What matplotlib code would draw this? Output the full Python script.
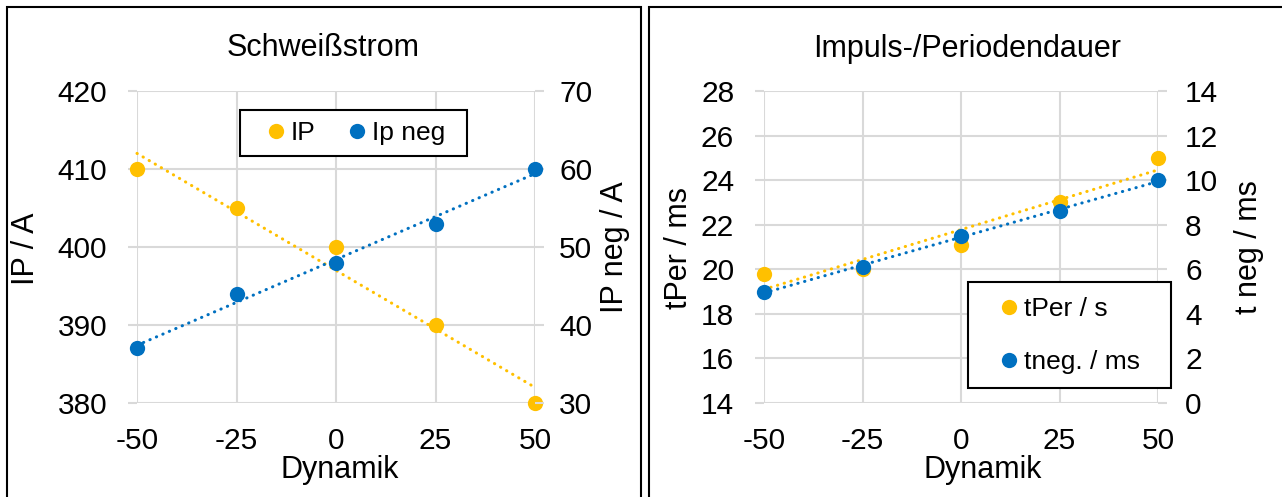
import numpy as np
import matplotlib
matplotlib.use('Agg')
import matplotlib.pyplot as plt
from matplotlib.patches import Rectangle

plt.rcParams['font.family'] = ['Liberation Sans', 'DejaVu Sans']
plt.rcParams['axes.unicode_minus'] = False

# Messwerte
dynamik = [-50, -25, 0, 25, 50]
ip = [410, 405, 400, 390, 380]          # IP / A
ip_neg = [37, 44, 48, 53, 60]           # IP neg / A
t_per = [19.8, 20.0, 21.1, 23.0, 25.0]  # tPer / ms
t_neg = [5.0, 6.1, 7.5, 8.6, 10.0]      # t neg / ms

GELB = '#FFC000'
BLAU = '#0070C0'
GRAU = '#D9D9D9'

W, H = 1282, 497
fig = plt.figure(figsize=(W / 100, H / 100), dpi=100)


def fx(x):
    return x / W


def fy(y):
    return 1 - y / H


def trend(ax, x, y, farbe):
    # lineare Trendlinie wie in Excel
    k, d = np.polyfit(x, y, 1)
    xs = np.array([min(x), max(x)], dtype=float)
    ax.plot(xs, k * xs + d, color=farbe, lw=2.2, linestyle=(0, (0.1, 2.2)),
            dash_capstyle='round', zorder=2, clip_on=False)


def panel(x0, x1, yl, yr, lim_l, lim_r, ticks_l, ticks_r, pad_r):
    ax = fig.add_axes([fx(x0), fy(403), fx(x1 - x0), (403 - 91) / H])
    ax2 = ax.twinx()
    trend(ax, dynamik, yl, GELB)
    l1, = ax.plot(dynamik, yl, 'o', color=GELB, ms=11, mew=0, zorder=3, clip_on=False)
    trend(ax2, dynamik, yr, BLAU)
    l2, = ax2.plot(dynamik, yr, 'o', color=BLAU, ms=11, mew=0, zorder=3, clip_on=False)
    ax.set_xlim(-50, 50)
    ax.set_xticks(dynamik)
    ax.set_ylim(*lim_l)
    ax.set_yticks(ticks_l)
    ax2.set_ylim(*lim_r)
    ax2.set_yticks(ticks_r)
    ax.grid(True, color=GRAU, lw=1.5)
    ax.set_axisbelow(True)
    ax.tick_params(axis='x', length=0, pad=17, labelsize=21.5)
    ax.tick_params(axis='y', length=6.5, width=1.5, color=GRAU, pad=15, labelsize=21.5)
    ax2.tick_params(axis='y', length=6.5, width=1.5, color=GRAU, pad=pad_r, labelsize=21.5)
    for a in (ax, ax2):
        for sp in a.spines.values():
            sp.set_visible(False)
    return ax, ax2, l1, l2


# linkes Diagramm: Schweißstrom
ax, ax2, l1, l2 = panel(137, 535, ip, ip_neg, (380, 420), (30, 70),
                        [380, 390, 400, 410, 420], [30, 40, 50, 60, 70], 11)
ax2.add_patch(Rectangle((fx(240), fy(156)), fx(467 - 240), (156 - 110) / H,
                        transform=fig.transFigure, fc='white', ec='black', lw=1.5,
                        zorder=4, clip_on=False))
ax2.legend([l1, l2], ['IP', 'Ip neg'], ncol=2, frameon=False, loc='center',
           bbox_to_anchor=(fx(355), fy(133)), bbox_transform=fig.transFigure,
           fontsize=19, handlelength=0.8, handletextpad=0.15, columnspacing=1.2,
           borderpad=0)

fig.text(fx(323), fy(56.5), 'Schweißstrom', fontsize=22, ha='center', va='baseline')
fig.text(fx(340), fy(478), 'Dynamik', fontsize=22, ha='center', va='baseline')
fig.text(fx(34), fy(249), 'IP / A', fontsize=22, rotation=90, rotation_mode='anchor',
         ha='center', va='baseline')
fig.text(fx(623), fy(247), 'IP neg / A', fontsize=22, rotation=90, rotation_mode='anchor',
         ha='center', va='baseline')

# rechtes Diagramm: Impuls-/Periodendauer
bx, bx2, m1, m2 = panel(764, 1158, t_per, t_neg, (14, 28), (0, 14),
                        [14, 16, 18, 20, 22, 24, 26, 28], [0, 2, 4, 6, 8, 10, 12, 14], 13)
bx2.add_patch(Rectangle((fx(968), fy(388)), fx(1171 - 968), (388 - 282) / H,
                        transform=fig.transFigure, fc='white', ec='black', lw=1.5,
                        zorder=4, clip_on=False))
bx2.legend([m1, m2], ['tPer / s', 'tneg. / ms'], ncol=1, frameon=False, loc='center',
           bbox_to_anchor=(fx(1069), fy(335.5)), bbox_transform=fig.transFigure,
           fontsize=19, handlelength=0.8, handletextpad=0.15, labelspacing=1.1,
           borderpad=0)

fig.text(fx(967), fy(56.5), 'Impuls-/Periodendauer', fontsize=22, ha='center', va='baseline')
fig.text(fx(983), fy(478), 'Dynamik', fontsize=22, ha='center', va='baseline')
fig.text(fx(687), fy(248), 'tPer / ms', fontsize=22, rotation=90, rotation_mode='anchor',
         ha='center', va='baseline')
fig.text(fx(1257), fy(247), 't neg / ms', fontsize=22, rotation=90, rotation_mode='anchor',
         ha='center', va='baseline')

# Rahmen der beiden Diagramme
fig.add_artist(Rectangle((fx(7), -0.1), fx(641 - 7), fy(7) + 0.1, transform=fig.transFigure,
                         fill=False, ec='black', lw=1.5))
fig.add_artist(Rectangle((fx(649), -0.1), fx(1300 - 649), fy(7) + 0.1, transform=fig.transFigure,
                         fill=False, ec='black', lw=1.5))

fig.savefig('out.png', dpi=100)
